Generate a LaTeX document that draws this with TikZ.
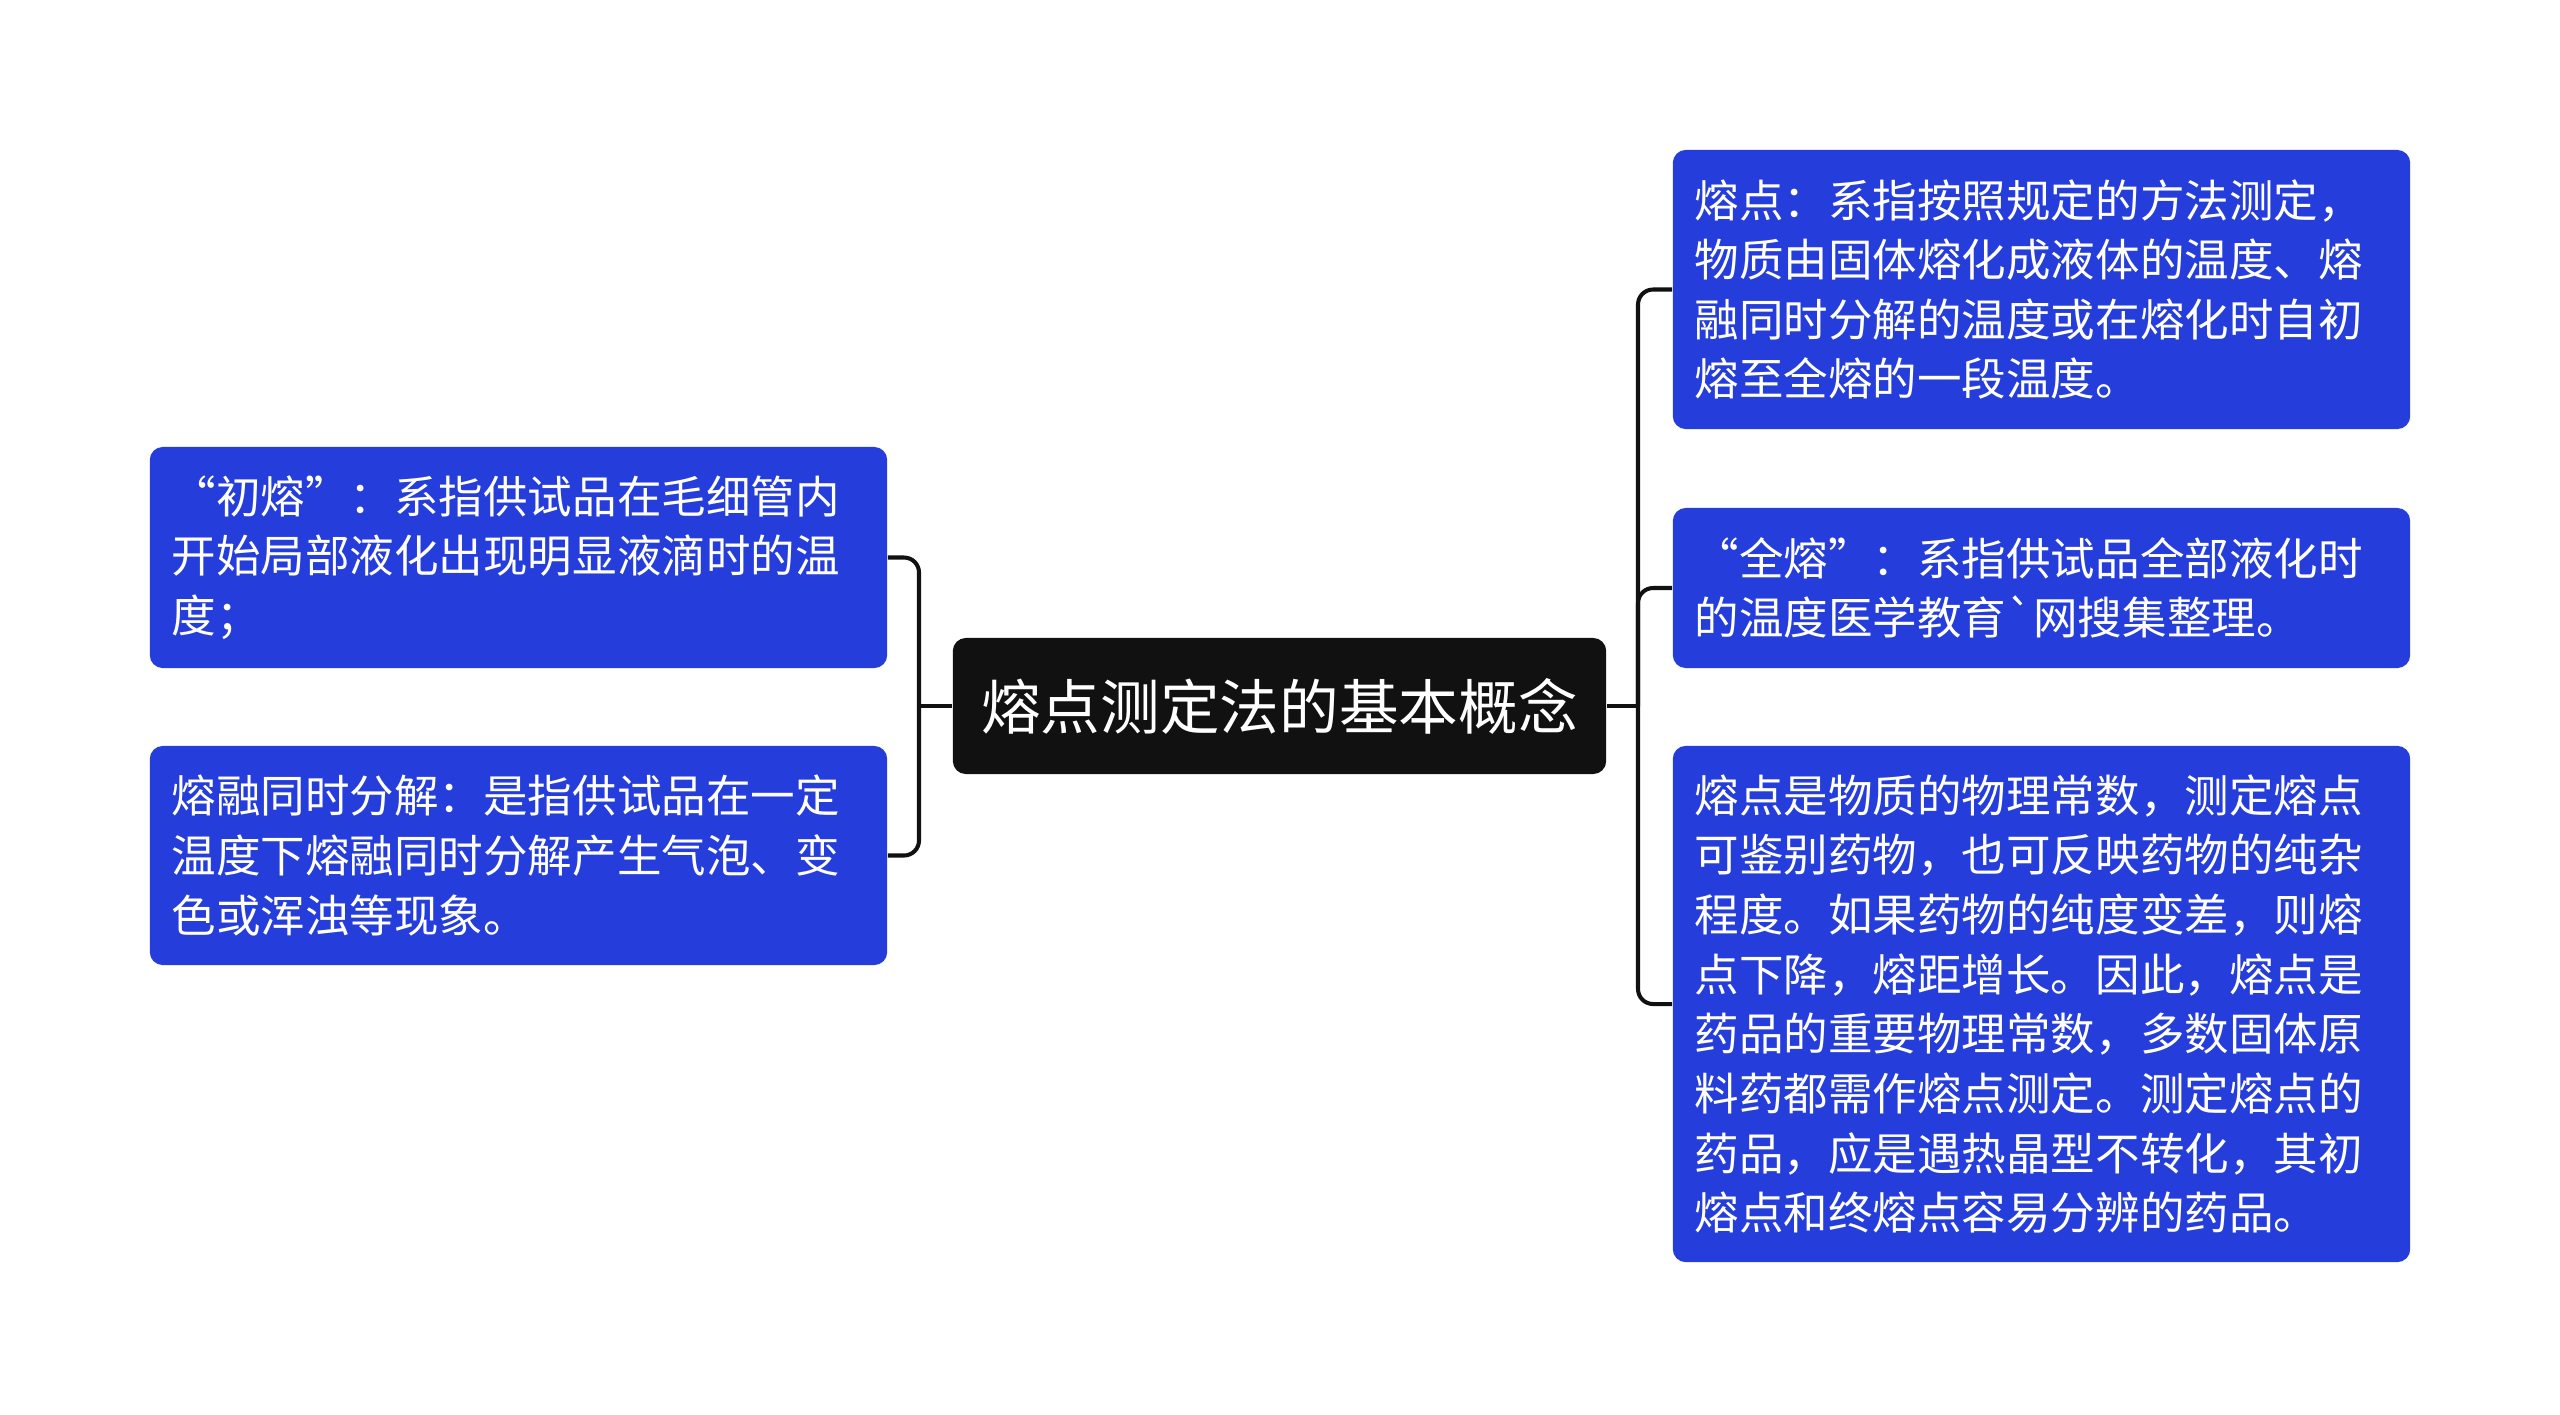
\documentclass[tikz,border=0pt]{standalone}
\usepackage{fontspec}
\newfontfamily\cjkfont{Noto Sans CJK SC}
\definecolor{leafblue}{RGB}{37,61,218}
\definecolor{rootblack}{RGB}{17,17,17}
\begin{document}
\begin{tikzpicture}[x=0.01cm, y=-0.01cm,
    leaf/.style={draw=none, fill=leafblue, rounded corners=0.13cm, text=white,
        font=\cjkfont\fontsize{12.66pt}{16.96pt}\selectfont,
        inner xsep=0.22cm, inner ysep=0pt, text width=6.93cm, align=left},
    root/.style={fill=rootblack, rounded corners=0.13cm, text=white,
        font=\cjkfont\fontsize{16.96pt}{20pt}\selectfont,
        minimum width=6.53cm, minimum height=1.36cm, inner sep=0pt},
    link/.style={draw=rootblack, line width=1.15pt},
    turn/.style={link, rounded corners=0.15cm}]
\useasboundingbox (0,0) rectangle (2560,1414);

\node[root] (core) at (1279.5,706) {熔点测定法的基本概念};

\node[leaf, minimum height=2.21cm] (chu) at (518.5,557.5) {“初熔”：系指供试品在毛细管内\\开始局部液化出现明显液滴时的温\\度；};
\node[leaf, minimum height=2.19cm] (fenjie) at (518.5,855.5) {熔融同时分解：是指供试品在一定\\温度下熔融同时分解产生气泡、变\\色或浑浊等现象。};

\node[leaf, minimum height=2.79cm] (rongdian) at (2041.5,289.5) {熔点：系指按照规定的方法测定，\\物质由固体熔化成液体的温度、熔\\融同时分解的温度或在熔化时自初\\熔至全熔的一段温度。};
\node[leaf, minimum height=1.60cm] (quan) at (2041.5,588) {“全熔”：系指供试品全部液化时\\的温度医学教育\textasciigrave 网搜集整理。};
\node[leaf, minimum height=5.16cm] (changshu) at (2041.5,1004) {熔点是物质的物理常数，测定熔点\\可鉴别药物，也可反映药物的纯杂\\程度。如果药物的纯度变差，则熔\\点下降，熔距增长。因此，熔点是\\药品的重要物理常数，多数固体原\\料药都需作熔点测定。测定熔点的\\药品，应是遇热晶型不转化，其初\\熔点和终熔点容易分辨的药品。};

\coordinate (lj) at (919,706);
\coordinate (rj) at (1638,706);
\draw[link] (core.west)--(lj);
\draw[link] (core.east)--(rj);
\foreach \n in {chu,fenjie}
{
    \draw[turn] (lj) |- (\n.east);
}
\foreach \n in {rongdian,quan,changshu}
{
    \draw[turn] (rj) |- (\n.west);
}
\end{tikzpicture}
\end{document}
